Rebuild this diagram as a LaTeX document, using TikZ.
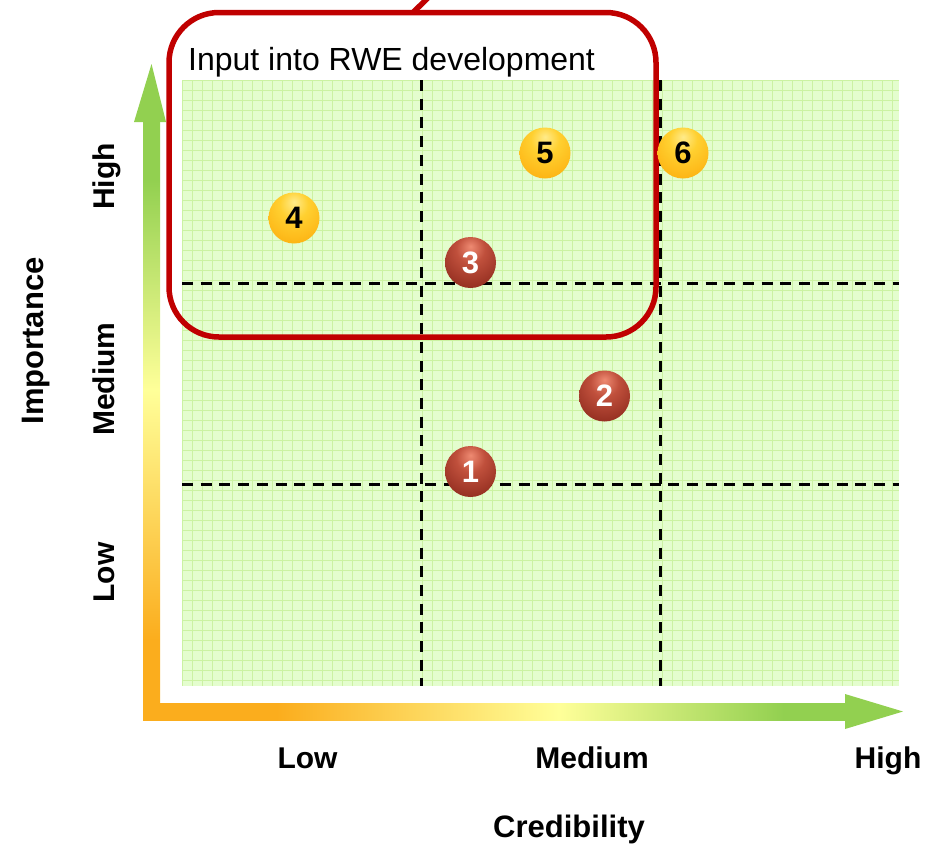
\documentclass[tikz,border=0pt]{standalone}
\usepackage{fontspec}
\setmainfont{Liberation Sans}

% palette
\definecolor{fieldfill}{HTML}{E4FDCE}
\definecolor{fieldline}{HTML}{CBF2A2}
\definecolor{axorange}{HTML}{FBAD1D}
\definecolor{axyellow}{HTML}{FFFF99}
\definecolor{axgreen}{HTML}{92D050}
\definecolor{boxred}{HTML}{C00000}
\definecolor{goldhi}{HTML}{FFEB8A}
\definecolor{goldmid}{HTML}{FFD030}
\definecolor{goldbase}{HTML}{FDB515}
\definecolor{golddark}{HTML}{E39A05}
\definecolor{redhi}{HTML}{EE8A72}
\definecolor{redmid}{HTML}{C0503C}
\definecolor{redbase}{HTML}{963022}
\definecolor{reddark}{HTML}{6E1C12}

% glossy spheres with the highlight near the top
\pgfdeclareradialshading{goldsphere}{\pgfpoint{0bp}{16bp}}{%
  color(0bp)=(goldhi); color(14bp)=(goldmid); color(34bp)=(goldbase);
  color(62bp)=(golddark); color(80bp)=(golddark)}
\pgfdeclareradialshading{redsphere}{\pgfpoint{0bp}{16bp}}{%
  color(0bp)=(redhi); color(14bp)=(redmid); color(34bp)=(redbase);
  color(62bp)=(reddark); color(80bp)=(reddark)}

% colour ramps of the two axis bars; the bar spans 25bp..75bp of each ramp
\pgfdeclareverticalshading{importanceramp}{100bp}{%
  color(0bp)=(axorange); color(31.7bp)=(axorange); color(52.5bp)=(axyellow);
  color(70bp)=(axgreen); color(100bp)=(axgreen)}
\pgfdeclarehorizontalshading{credibilityramp}{100bp}{%
  color(0bp)=(axorange); color(34.5bp)=(axorange); color(54.5bp)=(axyellow);
  color(70.5bp)=(axgreen); color(100bp)=(axgreen)}

\tikzset{
  gridline/.style={draw=fieldline, line width=0.9pt},
  divider/.style={draw=black, line width=3pt, dash pattern=on 11pt off 7.7pt},
  sphere/.style={circle, minimum size=51pt, inner sep=0pt, shade,
    font=\bfseries\fontsize{31}{31}\selectfont},
  goldball/.style={sphere, shading=goldsphere, text=black},
  redball/.style={sphere, shading=redsphere, text=white},
  ticklabel/.style={font=\bfseries\fontsize{30}{36}\selectfont, inner sep=0pt},
  axistitle/.style={font=\bfseries\fontsize{31}{36}\selectfont, inner sep=0pt},
  redbox/.style={draw=boxred, line width=5.5pt, rounded corners=50pt},
}

\begin{document}
\begin{tikzpicture}[x=1pt, y=-1pt]
  \useasboundingbox (0,0) rectangle (933,847);

  % squared field
  \fill[fieldfill] (182,80) rectangle (899,686);
  \foreach \gx in {182,192,...,899} \draw[gridline] (\gx,80) -- (\gx,686);
  \foreach \gy in {80,90,...,686} \draw[gridline] (182,\gy) -- (899,\gy);

  % axes: vertical bar with head
  \shade[shading=importanceramp] (143,120) rectangle (160,720);
  \fill[axgreen] (134,122) -- (151.5,64) -- (166,122) -- cycle;
  % axes: horizontal bar with head
  \shade[shading=credibilityramp] (143,703) rectangle (847,720);
  \fill[axgreen] (845,694) -- (903,711.5) -- (845,729) -- cycle;

  % dashed thirds
  \draw[divider] (421,80) -- (421,686);
  \draw[divider] (660,80) -- (660,686);
  \draw[divider] (182,283) -- (899,283);
  \draw[divider] (182,484) -- (899,484);

  % highlighted region
  \draw[redbox] (169,12.5) rectangle (656,337);
  \coordinate (pointerfoot) at (413,12.5);
  \coordinate (pointerhead) at (440,-14);
  \draw[draw=boxred, line width=5.5pt] (pointerfoot) -- (pointerhead);
  \node[anchor=base west, inner sep=0pt, font=\fontsize{32}{38}\selectfont]
    (boxtitle) at (188,70) {Input into RWE development};

  % axis labels
  \node[ticklabel, anchor=base] (xlow) at (307.5,768) {Low};
  \node[ticklabel, anchor=base] (xmed) at (592,768) {Medium};
  \node[ticklabel, anchor=base] (xhigh) at (888,768) {High};
  \node[axistitle, anchor=base] (xtitle) at (569,837) {Credibility};
  \node[ticklabel, anchor=base, rotate=90] (yhigh) at (114,176.5) {High};
  \node[ticklabel, anchor=base, rotate=90] (ymed) at (114,379) {Medium};
  \node[ticklabel, anchor=base, rotate=90] (ylow) at (114,572.5) {Low};
  \node[axistitle, anchor=base, rotate=90] (ytitle) at (43,341) {Importance};

  % items
  \node[redball] (item1) at (470.5,471.5) {1};
  \node[redball] (item2) at (604.5,396) {2};
  \node[redball] (item3) at (470.5,262.5) {3};
  \node[goldball] (item4) at (294,218) {4};
  \node[goldball] (item5) at (545,153) {5};
  \node[goldball] (item6) at (683,153) {6};
\end{tikzpicture}
\end{document}
